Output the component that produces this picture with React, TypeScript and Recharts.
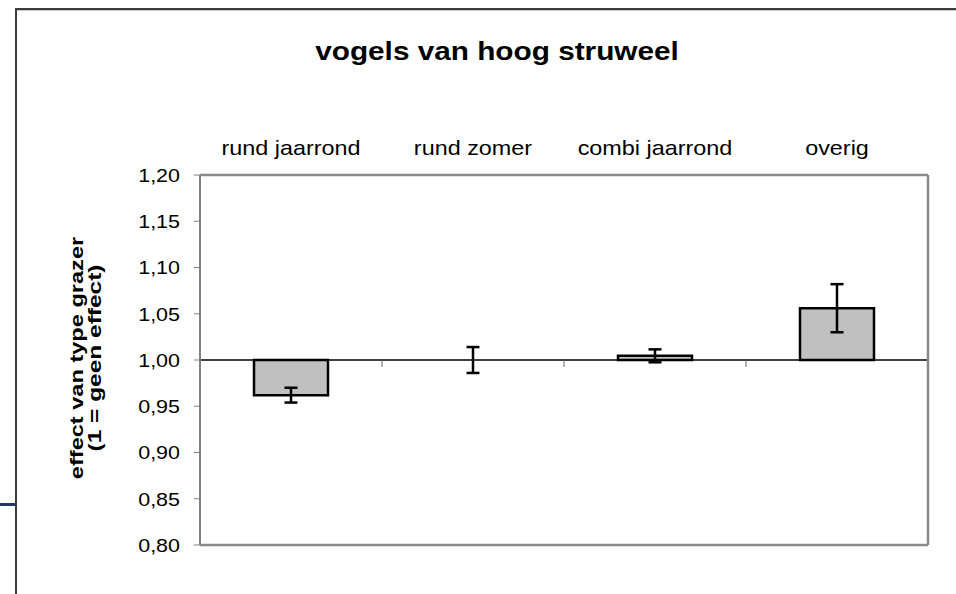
import { ComposedChart, Bar, Line, XAxis, YAxis, ErrorBar, ReferenceLine } from 'recharts';

// values
const categories = ['rund jaarrond', 'rund zomer', 'combi jaarrond', 'overig'];
const effects = [0.962, 1.0, 1.0045, 1.056];
const errors = [0.008, 0.014, 0.007, 0.026];
const yTicks = [0.8, 0.85, 0.9, 0.95, 1.0, 1.05, 1.1, 1.15, 1.2];
const yDomain = [0.8, 1.2];
const BASELINE = 1;

const data = categories.map((name, i) => ({
  name,
  range: [BASELINE, effects[i]],
  effect: effects[i],
  err: errors[i],
}));

const FONT = "Arial, 'Liberation Sans', Helvetica, sans-serif";
const FRAME = { stroke: '#8a8a8a', strokeWidth: 2.5 };

const fmt = (v: number) => v.toFixed(2).replace('.', ',');

const YTick = ({ x, y, payload }: any) => (
  <g transform={`translate(${x},${y})`}>
    <text transform="scale(1.13,1)" textAnchor="end" dy="0.36em" fontSize={19} fill="#000" fontFamily={FONT}>
      {fmt(payload.value)}
    </text>
  </g>
);

const XTick = ({ x, payload }: any) => (
  <g transform={`translate(${x},155)`}>
    <text transform="scale(1.17,1)" textAnchor="middle" fontSize={20} fill="#000" fontFamily={FONT}>
      {payload.value}
    </text>
  </g>
);

export default function App() {
  return (
    <div style={{ position: 'absolute', left: 0, top: 0, width: 956, height: 594, background: '#fff', overflow: 'hidden' }}>
      {/* outer chart frame */}
      <div style={{ position: 'absolute', left: 15, top: 8, width: 945, height: 590, borderTop: '2px solid #3c3c3c', borderLeft: '2px solid #3c3c3c' }} />
      <div style={{ position: 'absolute', left: 17, top: 10, width: 945, height: 1, background: '#c8c8c8' }} />
      <div style={{ position: 'absolute', left: 0, top: 503, width: 15, height: 3, background: '#1f3864' }} />

      <div style={{ position: 'absolute', left: 0, top: 0 }}>
        <ComposedChart
          width={956}
          height={594}
          data={data}
          margin={{ top: 145, right: 27, bottom: 48, left: 0 }}
          barSize={74}
        >
          <XAxis dataKey="name" orientation="top" height={30} axisLine={FRAME} tickLine={false} interval={0} tick={(p: any) => <XTick {...p} />} />
          <XAxis xAxisId="b" dataKey="name" orientation="bottom" height={1} axisLine={FRAME} tickLine={false} tick={false} />
          <YAxis
            type="number"
            domain={yDomain}
            ticks={yTicks}
            interval={0}
            allowDataOverflow
            width={200}
            tickSize={6}
            tickMargin={14}
            axisLine={{ stroke: '#808080', strokeWidth: 2 }}
            tickLine={{ stroke: '#808080' }}
            tick={(p: any) => <YTick {...p} />}
          />
          <YAxis yAxisId="r" orientation="right" type="number" domain={yDomain} allowDataOverflow width={1} axisLine={FRAME} tickLine={false} tick={false} />
          <ReferenceLine y={BASELINE} stroke="#000" strokeWidth={1.5} />
          {categories.map((c) => (
            <ReferenceLine
              key={c}
              position="end"
              segment={[{ x: c, y: BASELINE }, { x: c, y: BASELINE - 0.0075 }]}
              stroke="#666"
              strokeWidth={1}
              ifOverflow="visible"
            />
          ))}
          <Bar dataKey="range" fill="#c0c0c0" stroke="#000" strokeWidth={2.5} isAnimationActive={false} />
          <Line dataKey="effect" stroke="none" dot={false} activeDot={false} legendType="none" isAnimationActive={false}>
            <ErrorBar dataKey="err" direction="y" width={6.5} stroke="#000" strokeWidth={2.5} />
          </Line>
        </ComposedChart>
      </div>

      {/* title and y-axis label */}
      <svg width={956} height={594} style={{ position: 'absolute', left: 0, top: 0, pointerEvents: 'none' }}>
        <text transform="translate(497,60) scale(1.19,1)" textAnchor="middle" fontSize={25} fontWeight="bold" fill="#000" fontFamily={FONT}>
          vogels van hoog struweel
        </text>
        <g transform="translate(0,358) rotate(-90)">
          <text transform="scale(1.31,1)" x={0} y={83} textAnchor="middle" fontSize={18} fontWeight="bold" fill="#000" fontFamily={FONT}>
            effect van type grazer
          </text>
          <text transform="scale(1.36,1)" x={0} y={101.5} textAnchor="middle" fontSize={18} fontWeight="bold" fill="#000" fontFamily={FONT}>
            (1 = geen effect)
          </text>
        </g>
      </svg>
    </div>
  );
}
